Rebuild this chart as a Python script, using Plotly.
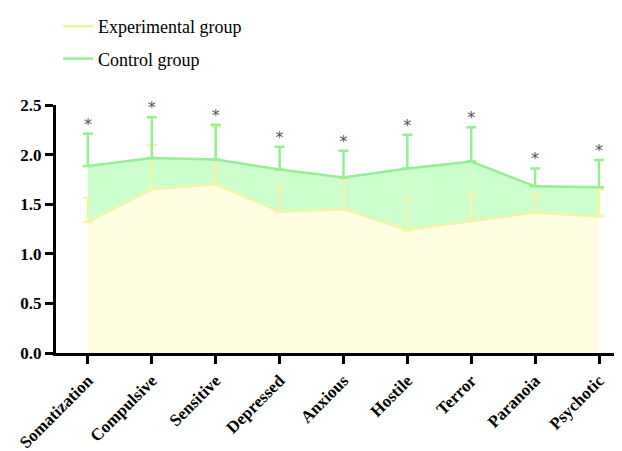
import plotly.graph_objects as go

categories = ["Somatization", "Compulsive", "Sensitive", "Depressed", "Anxious",
              "Hostile", "Terror", "Paranoia", "Psychotic"]
exp_mean = [1.32, 1.65, 1.70, 1.425, 1.45, 1.24, 1.33, 1.415, 1.375]
exp_sd = [0.245, 0.45, 0.575, 0.24, 0.31, 0.32, 0.27, 0.18, 0.275]
ctl_mean = [1.885, 1.966, 1.95, 1.85, 1.77, 1.86, 1.93, 1.68, 1.67]
ctl_sd = [0.325, 0.41, 0.35, 0.23, 0.27, 0.34, 0.345, 0.18, 0.275]
y_ticks = [0.0, 0.5, 1.0, 1.5, 2.0, 2.5]

x_idx = list(range(len(categories)))
exp_line = "#F0F5A8"
ctl_line = "#96EE96"
FONT = "Liberation Serif"

fig = go.Figure()
fig.add_trace(go.Scatter(
    x=x_idx, y=exp_mean, mode="lines", fill="tozeroy",
    fillcolor="#FFFDE0", line=dict(color=exp_line, width=2.5),
    error_y=dict(type="data", array=exp_sd, symmetric=False, arrayminus=[0]*9,
                 color=exp_line, thickness=2.5, width=5),
    showlegend=False))
fig.add_trace(go.Scatter(
    x=x_idx, y=ctl_mean, mode="lines", fill="tonexty",
    fillcolor="#CCFFCC", line=dict(color=ctl_line, width=2.5),
    error_y=dict(type="data", array=ctl_sd, symmetric=False, arrayminus=[0]*9,
                 color=ctl_line, thickness=2.5, width=5),
    showlegend=False))
fig.add_trace(go.Scatter(
    x=x_idx, y=[m + s for m, s in zip(ctl_mean, ctl_sd)], mode="text",
    text=["*"] * 9, textposition="top center",
    textfont=dict(family="DejaVu Sans", size=16, color="#555555"),
    showlegend=False, hoverinfo="skip", cliponaxis=False))
fig.add_trace(go.Scatter(x=[None], y=[None], mode="lines", name="Experimental group",
                         line=dict(color="#EAF88E", width=2.5), legendgroup="a"))
fig.add_trace(go.Scatter(x=[None], y=[None], mode="lines", name="Control group",
                         line=dict(color=ctl_line, width=2.5), legendgroup="b"))

# page has an 8px body margin, so the figure is 8px smaller and shifted
fig.update_layout(
    width=614, height=443,
    margin=dict(l=48, r=0, t=97, b=98, autoexpand=False),
    plot_bgcolor="white", paper_bgcolor="white",
    font=dict(family=FONT, color="black"),
    legend=dict(xref="container", yref="container", x=50 / 614, y=1.022,
                xanchor="left", yanchor="top", tracegroupgap=6,
                font=dict(family=FONT, size=18, color="black"),
                bgcolor="rgba(0,0,0,0)"),
    xaxis=dict(range=[-0.5, 8.36], tickmode="array", tickvals=x_idx,
               ticktext=categories, tickangle=-45, automargin=False,
               showline=True, linecolor="black", linewidth=3,
               ticks="outside", ticklen=8, tickwidth=3, tickcolor="black",
               showgrid=False, zeroline=False,
               tickfont=dict(family=FONT, size=17, color="black", weight="bold")),
    yaxis=dict(range=[0, 2.5], tickmode="array", tickvals=y_ticks,
               ticktext=[f"{v:.1f}" for v in y_ticks], automargin=False,
               showline=True, linecolor="black", linewidth=3,
               ticks="outside", ticklen=8, tickwidth=3, tickcolor="black",
               showgrid=False, zeroline=False,
               tickfont=dict(family=FONT, size=17, color="black", weight="bold")),
)

fig.write_html("out.html")
